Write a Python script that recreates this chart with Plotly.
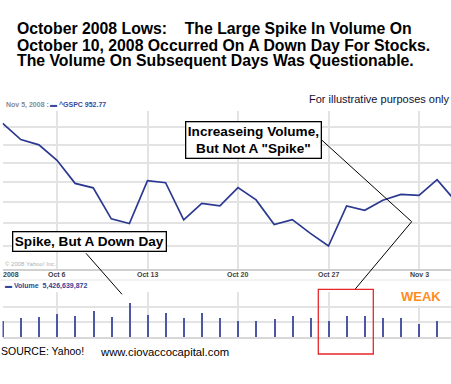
import plotly.graph_objects as go

# ---------------- data ----------------
dates = ["2008-10-01", "2008-10-02", "2008-10-03", "2008-10-06", "2008-10-07", "2008-10-08",
         "2008-10-09", "2008-10-10", "2008-10-13", "2008-10-14", "2008-10-15", "2008-10-16",
         "2008-10-17", "2008-10-20", "2008-10-21", "2008-10-22", "2008-10-23", "2008-10-24",
         "2008-10-27", "2008-10-28", "2008-10-29", "2008-10-30", "2008-10-31", "2008-11-03",
         "2008-11-04", "2008-11-05"]
close = [1161.06, 1114.28, 1099.23, 1056.89, 996.23, 984.94, 909.92, 899.22, 1003.35, 998.01,
         907.84, 946.43, 940.55, 985.40, 955.05, 896.78, 908.11, 876.77, 848.92, 940.51,
         930.09, 954.09, 968.75, 966.30, 1005.75, 952.77]
volume_bn = [5.6, 6.3, 6.7, 7.9, 7.25, 8.65, 6.8, 11.5, 7.3, 8.1, 6.6, 8.1, 6.6,
             5.3, 5.3, 6.2, 7.25, 6.6, 5.6, 7.25, 7.25, 6.3, 6.4, 4.4, 5.6, 5.4]
tick_dates = ["2008-10-06", "2008-10-13", "2008-10-20", "2008-10-27", "2008-11-03"]
tick_labels = ["Oct 6", "Oct 13", "Oct 20", "Oct 27", "Nov 3"]
price_grid = [850, 900, 950, 1000, 1050, 1100, 1150, 1200]
volume_grid_bn = [0, 5, 10, 15]

volume = [v * 1e9 for v in volume_bn]

W, H = 451, 384
def px(x): return x / W
def py(y): return 1 - y / H

FONT = "Liberation Sans, Arial, sans-serif"
GRID = "#e3e3e3"

fig = go.Figure()
fig.add_trace(go.Scatter(x=dates, y=close, mode="lines",
                         line=dict(color="#2b3990", width=1.7),
                         xaxis="x", yaxis="y", showlegend=False, hoverinfo="skip"))
fig.add_trace(go.Bar(x=dates, y=volume, width=0.07,
                     marker=dict(color="#4c58a6", line=dict(width=0)),
                     xaxis="x2", yaxis="y2", showlegend=False, hoverinfo="skip"))

xdom = [px(2.5), 1]
xr = [-0.011, 24.768]
common_x = dict(type="category", categoryorder="array", categoryarray=dates,
                range=xr, domain=xdom, tickvals=tick_dates, ticktext=tick_labels,
                showgrid=True, gridcolor=GRID, gridwidth=1.5, ticks="", zeroline=False,
                automargin=False, fixedrange=True, showticklabels=False)

fig.update_layout(
    width=W, height=H,
    margin=dict(l=0, r=0, t=0, b=0),
    paper_bgcolor="white", plot_bgcolor="white",
    bargap=0,
    xaxis=dict(**common_x, anchor="y", showline=True, linecolor="#d0d0d0", linewidth=2),
    yaxis=dict(type="log", range=[2.90309, 3.079181], domain=[py(269.3), py(110.5)],
               tickvals=price_grid, showticklabels=False, showgrid=True, fixedrange=True,
               gridcolor=GRID, gridwidth=1.5, zeroline=False, automargin=False, ticks=""),
    xaxis2=dict(**common_x, anchor="y2", showline=True, linecolor="#d8d8d8", linewidth=1.5),
    yaxis2=dict(range=[0, 15e9], domain=[py(337.3), py(291.7)], fixedrange=True,
                tickvals=[v * 1e9 for v in volume_grid_bn], showticklabels=False,
                showgrid=True, gridcolor=GRID, gridwidth=1.5, zeroline=False,
                automargin=False, ticks=""),
)

shapes = [
    dict(type="line", xref="paper", yref="paper", x0=0, x1=1, y0=py(280), y1=py(280),
         line=dict(color="#e6e6e6", width=1)),
    dict(type="line", xref="paper", yref="paper", x0=px(321.7), y0=py(140), x1=px(411.7), y1=py(221.7),
         line=dict(color="black", width=1)),
    dict(type="line", xref="paper", yref="paper", x0=px(411.7), y0=py(221.7), x1=px(355), y1=py(289.3),
         line=dict(color="black", width=1)),
    dict(type="line", xref="paper", yref="paper", x0=px(86), y0=py(253.3), x1=px(122), y1=py(294.3),
         line=dict(color="black", width=1)),
    dict(type="rect", xref="paper", yref="paper", x0=px(318.3), x1=px(373.3), y0=py(354), y1=py(289.3),
         line=dict(color="#e8262a", width=1.3)),
]
fig.update_layout(shapes=shapes)

ann = []
title_lines = ["October 2008 Lows:\u00a0\u00a0\u00a0 The Large Spike In Volume On",
               "October 10, 2008 Occurred On A Down Day For Stocks.",
               "The Volume On Subsequent Days Was Questionable."]
for t, yc in zip(title_lines, [28.3, 45.2, 61.0]):
    ann.append(dict(text="<b>" + t + "</b>", x=px(15), y=py(yc), xanchor="left", yanchor="middle",
                    font=dict(family=FONT, size=15.8, color="black")))

# date tick labels placed on the x scale
for d, lab in zip(tick_dates, tick_labels):
    ann.append(dict(text="<b>" + lab + "</b>", x=d, xref="x", y=py(274.5), xanchor="center",
                    yanchor="middle", font=dict(family=FONT, size=7, color="#444444")))

ann += [
    dict(text="For illustrative purposes only", x=px(307), y=py(99.5), xanchor="left", yanchor="middle",
         font=dict(family=FONT, size=11, color="#111133")),
    dict(text="<b>Nov 5, 2008 :</b>", x=px(4), y=py(104.5), xanchor="left", yanchor="middle",
         font=dict(family=FONT, size=7, color="#8a8a8a")),
    dict(text="<b>\u25ac ^GSPC 952.77</b>", x=px(48), y=py(104.5), xanchor="left", yanchor="middle",
         font=dict(family=FONT, size=7, color="#3b4a9a")),
    dict(text="\u00a9 2008 Yahoo! Inc.", x=px(2.5), y=py(264.3), xanchor="left", yanchor="middle",
         font=dict(family=FONT, size=6, color="#b0b0b0")),
    dict(text="<b>2008</b>", x=px(0.5), y=py(274.5), xanchor="left", yanchor="middle",
         font=dict(family=FONT, size=7, color="#444444")),
    dict(text="<b>\u25ac Volume  5,426,639,872</b>", x=px(3), y=py(285.7), xanchor="left", yanchor="middle",
         font=dict(family=FONT, size=7, color="#33449a")),
    dict(text="<b>Increaseing Volume,<br>But Not A \"Spike\"</b>", x=px(253), y=py(140),
         xanchor="center", yanchor="middle", align="center",
         font=dict(family=FONT, size=13.6, color="black"),
         bgcolor="white", bordercolor="black", borderwidth=1.3, borderpad=1.5),
    dict(text="<b>Spike, But A Down Day</b>", x=px(89.5), y=py(241.7),
         xanchor="center", yanchor="middle",
         font=dict(family=FONT, size=13.6, color="black"),
         bgcolor="white", bordercolor="black", borderwidth=1.3, borderpad=1.5),
    dict(text="<b>WEAK</b>", x=px(421), y=py(296), xanchor="center", yanchor="middle",
         font=dict(family=FONT, size=13, color="#ff8c1e"), bgcolor="white", borderpad=1),
    dict(text="SOURCE: Yahoo!", x=px(-1), y=py(351), xanchor="left", yanchor="middle",
         font=dict(family=FONT, size=10.5, color="black")),
    dict(text="www.ciovaccocapital.com", x=px(98), y=py(352), xanchor="left", yanchor="middle",
         font=dict(family=FONT, size=11.3, color="black")),
]
for a in ann:
    a.setdefault("xref", "paper")
    a.setdefault("yref", "paper")
    a["showarrow"] = False
fig.update_layout(annotations=ann)

fig.write_html("out.html", config={"displayModeBar": False, "staticPlot": False},
               post_script="document.body.style.margin='0px';document.body.style.overflow='hidden';")
